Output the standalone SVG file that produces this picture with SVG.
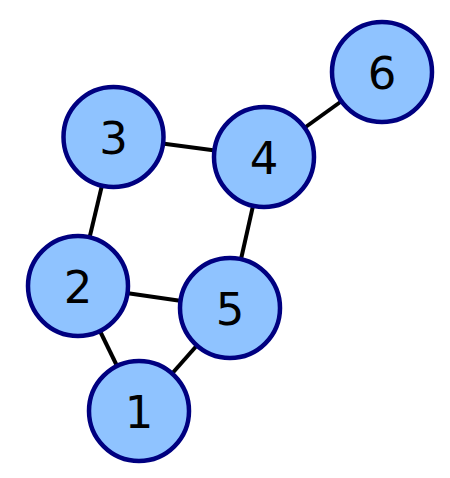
<svg xmlns="http://www.w3.org/2000/svg" width="450" height="478" viewBox="0 0 450 478">
<style>
.edge{stroke:#000;stroke-width:4;fill:none}
.node circle{fill:#8fc3ff;stroke:#000080;stroke-width:4.5}
.node text{font-family:"DejaVu Sans",sans-serif;font-size:45px;fill:#000;text-anchor:middle}
</style>
<rect width="450" height="478" fill="#fff"/>
<g id="edges">
<line class="edge" x1="139" y1="411" x2="78" y2="286"/>
<line class="edge" x1="139" y1="411" x2="230" y2="308"/>
<line class="edge" x1="78" y1="286" x2="230" y2="308"/>
<line class="edge" x1="78" y1="286" x2="113.5" y2="137"/>
<line class="edge" x1="113.5" y1="137" x2="264" y2="157"/>
<line class="edge" x1="264" y1="157" x2="230" y2="308"/>
<line class="edge" x1="264" y1="157" x2="382" y2="72"/>
</g>
<g id="n1" class="node"><circle cx="139" cy="411" r="50"/><text x="139" y="428">1</text></g>
<g id="n2" class="node"><circle cx="78" cy="286" r="50"/><text x="78" y="303">2</text></g>
<g id="n3" class="node"><circle cx="113.5" cy="137" r="50"/><text x="113.5" y="154">3</text></g>
<g id="n4" class="node"><circle cx="264" cy="157" r="50"/><text x="264" y="174">4</text></g>
<g id="n5" class="node"><circle cx="230" cy="308" r="50"/><text x="230" y="325">5</text></g>
<g id="n6" class="node"><circle cx="382" cy="72" r="50"/><text x="382" y="89">6</text></g>
</svg>
